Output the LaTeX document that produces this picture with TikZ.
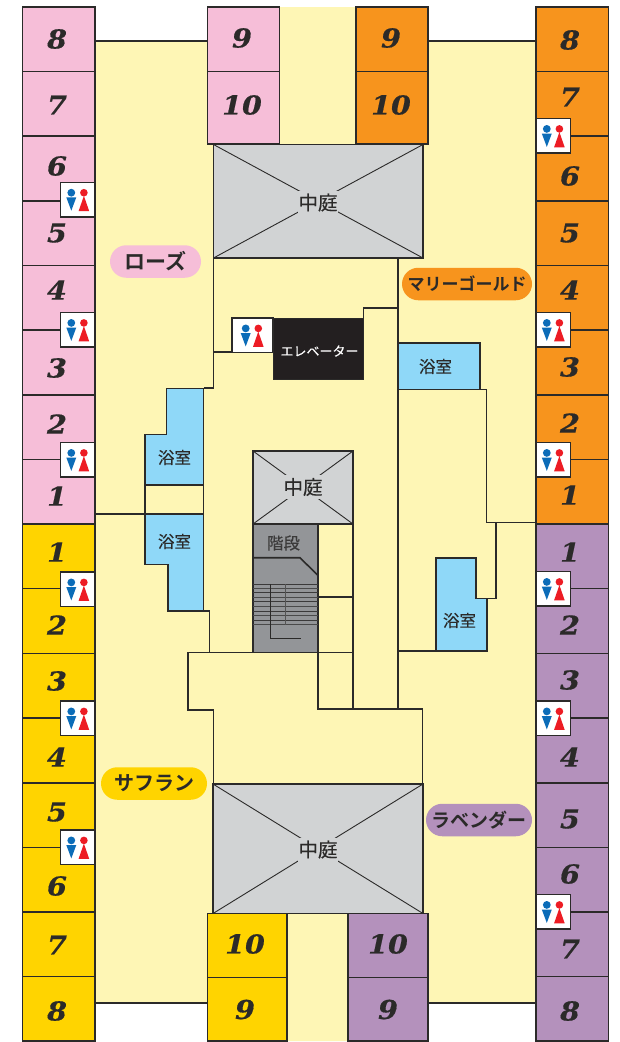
\documentclass[tikz,border=0pt]{standalone}
\usepackage{fontspec}
\setmainfont{Liberation Sans}
\newfontfamily\jpf[FakeBold=0.25]{Noto Sans CJK JP}
\newfontfamily\jpbf{Noto Sans CJK JP Bold}
\newfontfamily\numf[FakeStretch=1.1,FakeBold=0.6]{DejaVu Serif}
\definecolor{cpink}{HTML}{F6BED8}
\definecolor{corange}{HTML}{F7941D}
\definecolor{cgold}{HTML}{FFD400}
\definecolor{cpurple}{HTML}{B491BC}
\definecolor{cfloor}{HTML}{FEF6B5}
\definecolor{cbath}{HTML}{8FD8F8}
\definecolor{ccourt}{HTML}{D1D3D4}
\definecolor{cstair}{HTML}{939598}
\definecolor{cink}{HTML}{2B2A29}
\definecolor{cblack}{HTML}{231F20}
\definecolor{cblue}{HTML}{0B6CB8}
\definecolor{cred}{HTML}{ED1C24}
\usetikzlibrary{shapes.misc}
\tikzset{
  wall/.style={draw=cink,line width=1.6pt,line join=miter},
  thin wall/.style={draw=cink,line width=0.9pt},
  num/.style={inner sep=0pt,text=cink,font=\numf\bfseries\itshape\fontsize{26}{26}\selectfont},
  jp/.style={inner sep=0pt,text=cink,font=\jpf\fontsize{16.5}{17}\selectfont},
  courtlabel/.style={inner sep=0pt,fill=ccourt,text=cink,font=\jpf\fontsize{19.5}{20}\selectfont},
  pill/.style={rounded rectangle,inner sep=0pt,text=cink,font=\jpbf\fontsize{#1}{#1}\selectfont},
  pill/.default=19
}
\newcommand{\cell}[5]{\path[wall,fill=#5] (#1,#2) rectangle (#3,#4);}
\newcommand{\wcicon}[4]{%
  \begin{scope}[shift={(#1,#2)}]
    \path[wall,fill=white] (0,0) rectangle (#3,34.5);
    \fill[cblue] (#4+0,10.4) circle[radius=3.9pt];
    \fill[cblue] (#4-5,15) -- (#4+5,15) -- (#4,28.4) -- cycle;
    \fill[cred] (#4+12.6,10.4) circle[radius=3.8pt];
    \fill[cred] (#4+12.6,13.6) -- (#4+17.9,28.8) -- (#4+7.3,28.8) -- cycle;
  \end{scope}}
\begin{document}
\begin{tikzpicture}[x=1pt,y=-1pt]
\useasboundingbox (0,0) rectangle (620,1042);
\fill[white] (0,0) rectangle (620,1042);
% floor
\fill[cfloor] (95,41) -- (207,41) -- (207,7) -- (428,7) -- (428,41) -- (536,41)
  -- (536,1003) -- (428,1003) -- (428,1041) -- (207,1041) -- (207,1003) -- (95,1003) -- cycle;
\draw[wall] (95,41) -- (207,41);
\draw[wall] (428,41) -- (536,41);
\draw[wall] (95,1003) -- (207,1003);
\draw[wall] (428,1003) -- (536,1003);
% columns of rooms
\foreach \ya/\yb/\c in {7/71.5/cpink,71.5/136/cpink,136/201/cpink,201/265.5/cpink,265.5/330/cpink,330/395/cpink,395/459.5/cpink,459.5/524/cpink,
  524/588.5/cgold,588.5/653.5/cgold,653.5/718/cgold,718/783/cgold,783/847.5/cgold,847.5/912/cgold,912/976.5/cgold,976.5/1041/cgold}
  {\cell{22.5}{\ya}{95}{\yb}{\c}}
\foreach \ya/\yb/\c in {7/71.5/corange,71.5/136/corange,136/201/corange,201/265.5/corange,265.5/330/corange,330/395/corange,395/459.5/corange,459.5/524/corange,
  524/588.5/cpurple,588.5/653.5/cpurple,653.5/718/cpurple,718/783/cpurple,783/847.5/cpurple,847.5/912/cpurple,912/976.5/cpurple,976.5/1041/cpurple}
  {\cell{536}{\ya}{608.5}{\yb}{\c}}
\cell{207.5}{7}{279.5}{71.5}{cpink}
\cell{207.5}{71.5}{279.5}{144}{cpink}
\cell{356}{7}{428}{71.5}{corange}
\cell{356}{71.5}{428}{144}{corange}
\cell{207.5}{913.5}{287}{977.5}{cgold}
\cell{207.5}{977.5}{287}{1041}{cgold}
\cell{348}{913.5}{428}{977.5}{cpurple}
\cell{348}{977.5}{428}{1041}{cpurple}
% walls
\draw[wall] (213.5,258) -- (213.5,388) -- (203.5,388);
\draw[wall] (213.5,352) -- (232,352);
\draw[wall] (95,514) -- (203.5,514);
\draw[wall] (145,485) -- (145,514);
\draw[wall] (203.5,611) -- (209.5,611) -- (209.5,652.5);
\draw[wall] (353,652.5) -- (188,652.5) -- (188,710) -- (213.5,710) -- (213.5,784);
\draw[wall] (422.5,784) -- (422.5,709) -- (318,709) -- (318,524);
\draw[wall] (353,524) -- (353,709);
\draw[wall] (318,597) -- (353,597);
\draw[wall] (398,258) -- (398,709);
\draw[wall] (398,308) -- (363.5,308) -- (363.5,318);
\draw[wall] (398,389.5) -- (486.5,389.5) -- (486.5,522.5) -- (536,522.5);
\draw[wall] (486.5,522.5) -- (496,522.5) -- (496,598.5) -- (476,598.5);
\draw[wall] (398,651) -- (436,651);
% baths
\path[wall,fill=cbath] (166.5,388.5) -- (203.5,388.5) -- (203.5,485) -- (145,485) -- (145,434.5) -- (166.5,434.5) -- cycle;
\path[wall] (203.5,485) -- (203.5,514);
\path[wall,fill=cbath] (145,514) -- (203.5,514) -- (203.5,611) -- (168,611) -- (168,564.5) -- (145,564.5) -- cycle;
\path[wall,fill=cbath] (398,343) -- (480,343) -- (480,389.5) -- (398,389.5) -- cycle;
\path[wall,fill=cbath] (436,558) -- (476,558) -- (476,598.5) -- (487,598.5) -- (487,651) -- (436,651) -- cycle;
\node[jp] (bath1) at (174.5,457.5) {浴室};
\node[jp] (bath2) at (174.5,541.5) {浴室};
\node[jp] (bath3) at (435.5,366.5) {浴室};
\node[jp] (bath4) at (459.5,620.5) {浴室};
% courtyards
\path[wall,fill=ccourt] (213.5,144.5) rectangle (423,258);
\draw[thin wall] (213.5,144.5) -- (423,258) (423,144.5) -- (213.5,258);
\node[courtlabel,minimum width=40pt,minimum height=24pt] (court1) at (318,202.5) {中庭};
\path[wall,fill=ccourt] (213,784) rectangle (423,913.5);
\draw[thin wall] (213,784) -- (423,913.5) (423,784) -- (213,913.5);
\node[courtlabel,minimum width=40pt,minimum height=24pt] (court3) at (318,849.5) {中庭};
\path[wall,fill=ccourt] (253,451) rectangle (353,524);
\draw[thin wall] (253,451) -- (353,524) (353,451) -- (253,524);
\node[courtlabel,minimum width=36pt,minimum height=24pt] (court2) at (303,487) {中庭};
% stairs
\path[wall,fill=cstair] (253,524) rectangle (318,652.5);
\draw[wall] (253,557.7) -- (300,557.7) -- (318,575.5);
\foreach \y in {588.5,597.3,606.7,615.3,624.7}
  \draw[draw=cink!70!cstair,line width=1.1pt] (253,\y) -- (318,\y);
\foreach \y in {584,592.7,601.7,611,620}
  \draw[draw=cink!85!cstair,line width=0.9pt] (253,\y) -- (318,\y);
\draw[draw=cink!60!cstair,line width=1pt] (285.7,584) -- (285.7,624.7);
\draw[draw=cink,line width=0.9pt] (270.7,584) -- (270.7,638) -- (300.5,638);
\node[jp,text=cink!85!cstair] (stairs) at (283.5,543) {階段};
% elevator
\path[draw=cink,line width=1pt,fill=cblack] (273,318) rectangle (363.5,379.5);
\node[inner sep=0pt,text=white,font=\jpf\fontsize{13}{13}\selectfont] (elev) at (319.5,351) {エレベーター};
% toilets
\foreach \y in {182.3,312.5,442.5,572,701,830}
  {\wcicon{60.5}{\y}{34.5}{10.8}}
\foreach \y in {118.5,312.5,442.5,571.5,701,894.5}
  {\wcicon{536}{\y}{34.5}{10.8}}
\wcicon{232}{318}{41}{13.7}
% numbers
\foreach \n/\y in {8/39,7/105,6/166,5/233,4/290,3/368,2/424,1/496,1/552,2/625,3/681,4/757,5/812,6/886,7/945,8/1011}
  {\node[num] (numL\y) at (57,\y) {\n};}
\foreach \n/\y in {8/40,7/97,6/176,5/233,4/290,3/367,2/423,1/495,1/552,2/625,3/680,4/757,5/819,6/874,7/949,8/1011}
  {\node[num] (numR\y) at (570,\y) {\n};}
\node[num] (t9a) at (242,38) {9};
\node[num] (t10a) at (242,105) {10};
\node[num] (t9b) at (391,38) {9};
\node[num] (t10b) at (391,105) {10};
\node[num] (b10a) at (245,944) {10};
\node[num] (b9a) at (245,1009.5) {9};
\node[num] (b10b) at (388,944) {10};
\node[num] (b9b) at (388,1009.5) {9};
% wing labels
\node[pill=21,fill=cpink,minimum width=91pt,minimum height=32.5pt] (rose) at (155.5,261.5) {ローズ};
\node[pill=17,fill=corange,minimum width=130pt,minimum height=32.5pt] (marigold) at (467,284) {マリーゴールド};
\node[pill=20,fill=cgold,minimum width=106pt,minimum height=32.5pt] (saffron) at (154,783.5) {サフラン};
\node[pill=19,fill=cpurple,minimum width=106pt,minimum height=32.5pt] (lavender) at (479,820) {ラベンダー};
\end{tikzpicture}
\end{document}
